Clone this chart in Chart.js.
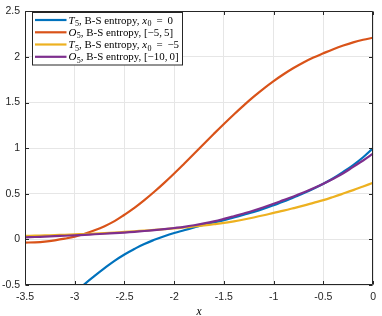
<!DOCTYPE html>
<html>
<head>
<meta charset="utf-8">
<script src="https://cdn.jsdelivr.net/npm/chart.js@4.4.0/dist/chart.umd.min.js"></script>
<style>
html,body{margin:0;padding:0;background:#fff;}
#wrap{width:382px;height:316px;}
</style>
</head>
<body>
<div id="wrap"><canvas id="c" width="382" height="316"></canvas></div>
<script>
// ---- data ----
const xValues = [-3.5,-3.4,-3.3,-3.2,-3.1,-3.0,-2.9,-2.8,-2.7,-2.6,-2.5,-2.4,-2.3,-2.2,-2.1,-2.0,-1.9,-1.8,-1.7,-1.6,-1.5,-1.4,-1.3,-1.2,-1.1,-1.0,-0.9,-0.8,-0.7,-0.6,-0.5,-0.4,-0.3,-0.2,-0.1,0];
const seriesLabels = ['T5, B-S entropy, x0 = 0','O5, B-S entropy, [-5, 5]','T5, B-S entropy, x0 = -5','O5, B-S entropy, [-10, 0]'];
const blueT5x0 = [null,null,null,null,null,-0.60,-0.49,-0.40,-0.315,-0.235,-0.165,-0.105,-0.05,-0.005,0.035,0.07,0.10,0.13,0.16,0.185,0.21,0.24,0.27,0.30,0.335,0.375,0.415,0.46,0.505,0.555,0.61,0.67,0.74,0.815,0.90,1.0];
const orangeO5 = [-0.035,-0.032,-0.024,-0.01,0.008,0.03,0.062,0.10,0.145,0.20,0.27,0.345,0.43,0.522,0.62,0.723,0.83,0.939,1.049,1.158,1.265,1.369,1.469,1.564,1.653,1.735,1.81,1.878,1.939,1.993,2.04,2.085,2.125,2.16,2.188,2.21];
const yellowT5x5 = [0.038,0.041,0.044,0.047,0.051,0.055,0.059,0.064,0.069,0.075,0.082,0.089,0.096,0.104,0.112,0.120,0.130,0.141,0.153,0.166,0.180,0.198,0.218,0.240,0.264,0.290,0.315,0.342,0.370,0.400,0.430,0.465,0.502,0.540,0.580,0.620];
const purpleO5 = [0.022,0.026,0.030,0.035,0.040,0.045,0.050,0.056,0.062,0.068,0.075,0.083,0.092,0.102,0.113,0.125,0.138,0.155,0.175,0.198,0.225,0.254,0.284,0.316,0.352,0.390,0.430,0.470,0.513,0.560,0.610,0.665,0.725,0.795,0.865,0.940];
const xTicks = [-3.5,-3,-2.5,-2,-1.5,-1,-0.5,0];
const yTicks = [-0.5,0,0.5,1,1.5,2,2.5];
// legend rich-text segments: [text, style] with style 'i' italic, 's' subscript, 'n' normal
const legendSegments = [
  [['T','i'],['5','s'],[', B-S entropy, ','n'],['x','i'],['0','s'],[' \u2009=\u2009 0','n']],
  [['O','i'],['5','s'],[', B-S entropy, [\u22125,\u20095]','n']],
  [['T','i'],['5','s'],[', B-S entropy, ','n'],['x','i'],['0','s'],[' \u2009=\u2009 \u22125','n']],
  [['O','i'],['5','s'],[', B-S entropy, [\u221210,\u20090]','n']]
];
const colors = ['#0072BD','#D95319','#EDB120','#7E2F8E'];

function pts(ys){ return xValues.map((x,i)=>({x:x,y:ys[i]})); }

const axisColor = '#262626';
const gridColor = '#e6e6e6';

const boxTicksPlugin = {
  id:'boxTicks',
  afterDraw(chart){
    const ctx = chart.ctx, a = chart.chartArea;
    const xs = chart.scales.x, ys = chart.scales.y;
    ctx.save();
    ctx.strokeStyle = axisColor;
    ctx.lineWidth = 1;
    const L = Math.round(a.left)+0.5, R = Math.round(a.right)-0.5, T = Math.round(a.top)+0.5, B = Math.round(a.bottom)-0.5;
    ctx.beginPath();
    ctx.rect(L, T, R-L, B-T);
    ctx.stroke();
    const tl = 3.5;
    ctx.beginPath();
    xTicks.forEach(v=>{
      const px = Math.round(xs.getPixelForValue(v))+0.5;
      ctx.moveTo(px,B); ctx.lineTo(px,B-tl);
      ctx.moveTo(px,T); ctx.lineTo(px,T+tl);
    });
    yTicks.forEach(v=>{
      const py = Math.round(ys.getPixelForValue(v))+0.5;
      ctx.moveTo(L,py); ctx.lineTo(L+tl,py);
      ctx.moveTo(R,py); ctx.lineTo(R-tl,py);
    });
    ctx.stroke();
    // legend
    const lx = 32.5, ly = 12.5, lw = 150, lh = 52.5;
    ctx.fillStyle = '#fff';
    ctx.fillRect(lx, ly, lw, lh);
    ctx.strokeStyle = axisColor;
    ctx.lineWidth = 1;
    ctx.strokeRect(lx, ly, lw, lh);
    const rowY = [20, 32.3, 44.5, 56.8];
    legendSegments.forEach((segs, i)=>{
      const y = rowY[i];
      ctx.strokeStyle = colors[i];
      ctx.lineWidth = 2.2;
      ctx.beginPath(); ctx.moveTo(35, y); ctx.lineTo(66.5, y); ctx.stroke();
      let x = 68.5;
      ctx.fillStyle = '#000';
      ctx.textBaseline = 'alphabetic';
      ctx.textAlign = 'left';
      const base = y + 3.6;
      segs.forEach(([t, st])=>{
        let f, dy = 0;
        if (st==='i') f = 'italic 10.9px "Liberation Serif", serif';
        else if (st==='s') { f = '8px "Liberation Serif", serif'; dy = 2.5; }
        else f = '10.9px "Liberation Serif", serif';
        ctx.font = f;
        ctx.fillText(t, x, base + dy);
        x += ctx.measureText(t).width + (st==='i' ? 0.5 : 0);
      });
    });
    ctx.restore();
  }
};

new Chart(document.getElementById('c'), {
  type:'line',
  data:{
    datasets:[
      {label:seriesLabels[0], data:pts(blueT5x0), borderColor:colors[0], order:3},
      {label:seriesLabels[1], data:pts(orangeO5), borderColor:colors[1], order:2},
      {label:seriesLabels[2], data:pts(yellowT5x5), borderColor:colors[2], order:1},
      {label:seriesLabels[3], data:pts(purpleO5), borderColor:colors[3], order:0}
    ]
  },
  options:{
    responsive:false,
    animation:false,
    devicePixelRatio:1,
    layout:{padding:{top:3,right:4,left:0,bottom:0}},
    elements:{
      point:{radius:0},
      line:{borderWidth:2.2, tension:0.4, fill:false}
    },
    datasets:{line:{clip:0, spanGaps:false}},
    plugins:{legend:{display:false}, tooltip:{enabled:false}},
    scales:{
      x:{
        type:'linear', min:-3.5, max:0,
        afterBuildTicks(s){ s.ticks = xTicks.map(v=>({value:v})); },
        afterFit(s){ s.height = 31; },
        ticks:{color:axisColor, padding:6, font:{family:'"Liberation Sans", Arial, sans-serif', size:10.5}, callback:v=>String(v), maxRotation:0, autoSkip:false},
        grid:{color:gridColor, drawTicks:false},
        border:{display:false},
        title:{display:true, text:'x', color:'#000', font:{family:'"Liberation Serif", serif', style:'italic', size:11.5}, padding:{top:0,bottom:-3}}
      },
      y:{
        type:'linear', min:-0.5, max:2.5,
        afterBuildTicks(s){ s.ticks = yTicks.map(v=>({value:v})); },
        afterFit(s){ s.width = 25; },
        ticks:{color:axisColor, padding:5, font:{family:'"Liberation Sans", Arial, sans-serif', size:10.5}, callback:v=>String(v), autoSkip:false},
        grid:{color:gridColor, drawTicks:false},
        border:{display:false}
      }
    }
  },
  plugins:[boxTicksPlugin]
});
</script>
</body>
</html>
